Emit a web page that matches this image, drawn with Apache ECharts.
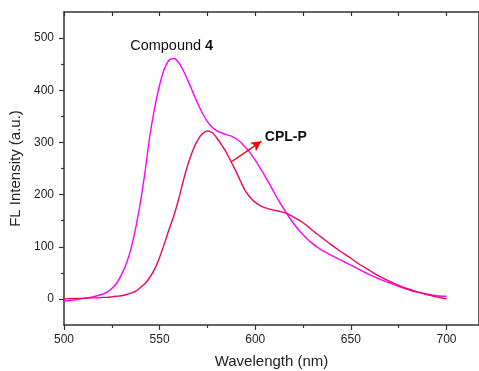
<!DOCTYPE html>
<html>
<head>
<meta charset="utf-8">
<script src="https://cdn.jsdelivr.net/npm/echarts@6/dist/echarts.min.js"></script>
<style>html,body{margin:0;padding:0;background:#fff}#c{width:479px;height:371px}</style>
</head>
<body>
<div id="c"></div>
<script>
// wavelengths (nm)
const wavelengths = [500,505,510,515,517.5,520,522.5,525,527.5,530,532.5,535,537.5,540,542.5,545,547.5,550,552.5,555,557.5,560,562.5,565,567.5,570,572.5,575,577.5,580,582.5,585,587.5,590,592.5,595,597.5,600,602.5,605,607.5,610,612.5,615,617.5,620,622.5,625,627.5,630,632.5,635,637.5,640,645,650,655,660,665,670,675,680,685,690,695,700];
// Compound 4 (magenta)
const compound4 = [-4,-2,1,4,6,9,13,20,30,46,67,96,136,186,247,315,368,410,441,458,461,453,437,417,395,374,355,340,329,322,318,315,312,307,300,290,279,266,251,236,220,203,187,172,158,145,133,123,114,106,99,93,88,83,74,65,55,46,38,31,24,18,13,9,6,5];
// CPL-P (red)
const cplp = [0,1,1,2,2,3,3,4,5,6,8,11,15,22,30,42,58,80,106,134,160,192,228,260,286,305,317,322,319,308,295,280,262,244,224,206,194,185,179,175,172,170,168,166,162,157,152,146,139,131,124,117,110,103,90,78,65,54,43,34,26,19,13,8,4,0];
const xMajor = [500,550,600,650,700];
const xMinor = [525,575,625,675];
const yMajor = [0,100,200,300,400,500];
const yMinor = [50,150,250,350,450];

const toPairs = v => wavelengths.map((w,i)=>[w,v[i]]);
const font = 'Liberation Sans, Arial, sans-serif';
const lineColor = '#333';

const chart = echarts.init(document.getElementById('c'));
const xCommon = {type:'value', min:500, max:717, gridIndex:0,
  axisLine:{show:true,onZero:false,lineStyle:{color:lineColor,width:1.5}}, splitLine:{show:false}};
const yCommon = {type:'value', min:-50, max:550,
  axisLine:{show:true,onZero:false,lineStyle:{color:lineColor,width:1.5}}, splitLine:{show:false}};
chart.setOption({
  animation:false,
  grid:{left:64,top:12,width:415,height:313,containLabel:false,outerBoundsMode:'none'},
  xAxis:[
    Object.assign({}, xCommon, {position:'bottom',
      name:'Wavelength (nm)', nameLocation:'middle', nameGap:29,
      nameTextStyle:{fontFamily:font,fontSize:15,color:'#222'},
      axisTick:{show:true,inside:false,length:5,customValues:xMajor,lineStyle:{color:lineColor,width:1.2}},
      axisLabel:{show:true,margin:9,customValues:xMajor,fontFamily:font,fontSize:12,color:'#222'}}),
    Object.assign({}, xCommon, {position:'bottom',
      axisLine:{show:false,onZero:false},
      axisTick:{show:true,inside:false,length:3,customValues:xMinor,lineStyle:{color:lineColor,width:1.2}},
      axisLabel:{show:false}}),
    Object.assign({}, xCommon, {position:'top',
      axisTick:{show:true,inside:true,length:4,customValues:xMajor.concat(xMinor),lineStyle:{color:lineColor,width:1.2}},
      axisLabel:{show:false}})
  ],
  yAxis:[
    Object.assign({}, yCommon, {position:'left',
      name:'FL Intensity (a.u.)', nameLocation:'middle', nameGap:36,
      nameTextStyle:{fontFamily:font,fontSize:15,color:'#222'},
      axisTick:{show:true,inside:false,length:5,customValues:yMajor,lineStyle:{color:lineColor,width:1.2}},
      axisLabel:{show:true,margin:10,customValues:yMajor,fontFamily:font,fontSize:12,color:'#222'}}),
    Object.assign({}, yCommon, {position:'left',
      axisLine:{show:false,onZero:false},
      axisTick:{show:true,inside:false,length:3,customValues:yMinor,lineStyle:{color:lineColor,width:1.2}},
      axisLabel:{show:false}}),
    Object.assign({}, yCommon, {position:'right',
      axisTick:{show:false}, axisLabel:{show:false}})
  ],
  series:[
    {name:'Compound 4', type:'line', xAxisIndex:0, yAxisIndex:0, data:toPairs(compound4),
     smooth:0.3, showSymbol:false, lineStyle:{color:'#FF00FF',width:1.4}, itemStyle:{color:'#FF00FF'},
     markPoint:{symbol:'circle',symbolSize:0,silent:true,
       data:[{coord:[556.3,485.6],value:'',
         label:{show:true,position:'inside',fontFamily:font,fontSize:14.5,color:'#111',
           formatter:'Compound {b|4}',rich:{b:{fontWeight:'bold',fontFamily:font,fontSize:14.5,color:'#111'}}}}]}},
    {name:'CPL-P', type:'line', xAxisIndex:0, yAxisIndex:0, data:toPairs(cplp),
     smooth:0.3, showSymbol:false, lineStyle:{color:'#F0065F',width:1.4}, itemStyle:{color:'#F0065F'},
     markPoint:{symbol:'circle',symbolSize:0,silent:true,
       data:[{coord:[616,310],value:'',
         label:{show:true,position:'inside',fontFamily:font,fontSize:14,fontWeight:'bold',color:'#111',formatter:'CPL-P'}}]},
     markLine:{silent:true,symbol:['none','arrow'],symbolSize:[8,10],
       lineStyle:{color:'#FF0000',width:1.4,type:'solid'},label:{show:false},
       data:[[{coord:[587.4,262.5]},{coord:[603.1,302]}]]}}
  ]
});
</script>
</body>
</html>
